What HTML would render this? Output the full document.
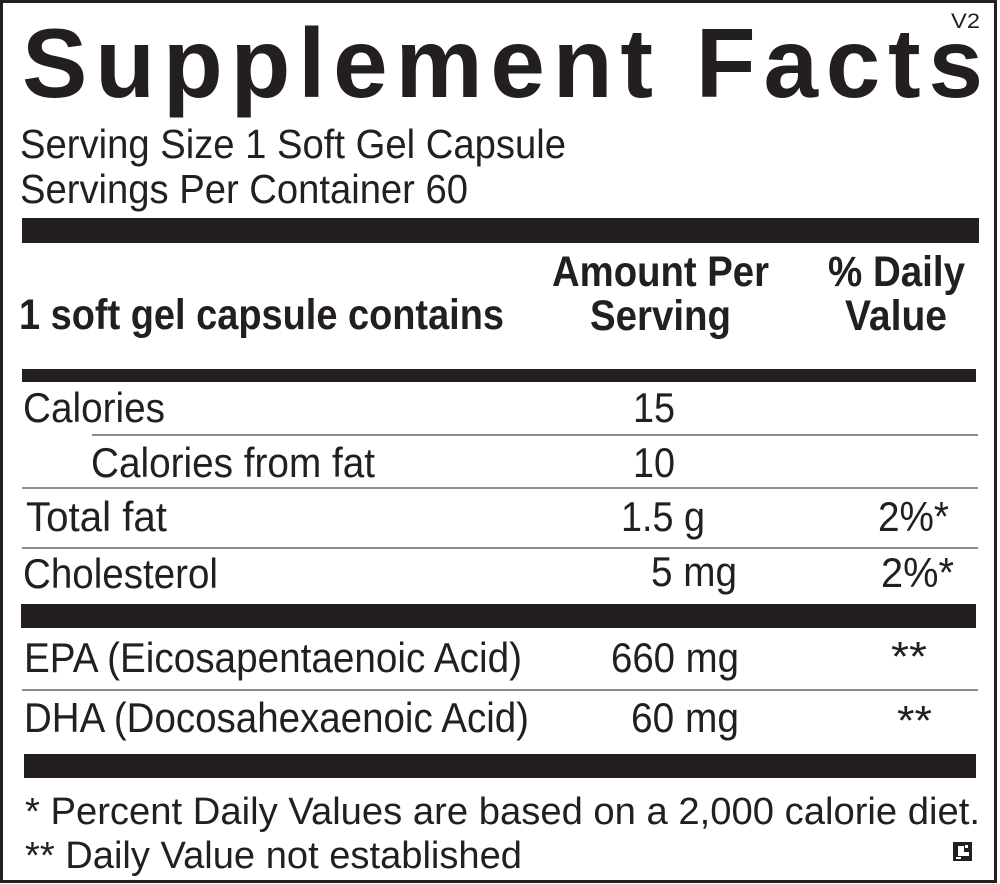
<!DOCTYPE html>
<html>
<head>
<meta charset="utf-8">
<style>
html,body{margin:0;padding:0;background:#fff;}
svg{display:block;}
text{font-family:"Liberation Sans",Arial,sans-serif;fill:#231f20;}
.b{font-weight:bold;}
</style>
</head>
<body>
<svg width="1000" height="884" viewBox="0 0 1000 884" xmlns="http://www.w3.org/2000/svg">
<rect x="0" y="0" width="1000" height="884" fill="#fff"/>
<!-- outer border -->
<rect x="1.5" y="1.5" width="994" height="880" fill="none" stroke="#231f20" stroke-width="3"/>

<!-- title -->
<text class="b" x="22" y="97" font-size="98" textLength="961" lengthAdjust="spacing">Supplement Facts</text>
<text x="951" y="28" font-size="21" textLength="29" lengthAdjust="spacingAndGlyphs">V2</text>

<text x="20" y="158" font-size="41" textLength="546" lengthAdjust="spacingAndGlyphs">Serving Size 1 Soft Gel Capsule</text>
<text x="20" y="203" font-size="41" textLength="448" lengthAdjust="spacingAndGlyphs">Servings Per Container 60</text>

<!-- bar 1 -->
<rect x="22" y="218" width="957" height="25" fill="#231f20"/>

<!-- header -->
<text class="b" x="19" y="329" font-size="43" textLength="485" lengthAdjust="spacingAndGlyphs">1 soft gel capsule contains</text>
<text class="b" x="552" y="286" font-size="43" textLength="217" lengthAdjust="spacingAndGlyphs">Amount Per</text>
<text class="b" x="590" y="330" font-size="43" textLength="141" lengthAdjust="spacingAndGlyphs">Serving</text>
<text class="b" x="828" y="286" font-size="43" textLength="137" lengthAdjust="spacingAndGlyphs">% Daily</text>
<text class="b" x="845" y="330" font-size="43" textLength="102" lengthAdjust="spacingAndGlyphs">Value</text>

<!-- bar 2 -->
<rect x="22" y="369" width="954" height="13" fill="#231f20"/>

<!-- rows -->
<text x="23" y="422" font-size="42" textLength="142" lengthAdjust="spacingAndGlyphs">Calories</text>
<text x="633" y="422" font-size="42" textLength="42" lengthAdjust="spacingAndGlyphs">15</text>
<rect x="92" y="434" width="886" height="2" fill="#8c8c8c"/>

<text x="91" y="477" font-size="42" textLength="284" lengthAdjust="spacingAndGlyphs">Calories from fat</text>
<text x="633" y="477" font-size="42" textLength="42" lengthAdjust="spacingAndGlyphs">10</text>
<rect x="22" y="487" width="956" height="2" fill="#8c8c8c"/>

<text x="26" y="531" font-size="42" textLength="141" lengthAdjust="spacingAndGlyphs">Total fat</text>
<text x="621" y="531" font-size="42" textLength="84" lengthAdjust="spacingAndGlyphs">1.5 g</text>
<text x="878" y="531" font-size="42" textLength="71" lengthAdjust="spacingAndGlyphs">2%*</text>
<rect x="22" y="547" width="956" height="2" fill="#8c8c8c"/>

<text x="23" y="588" font-size="42" textLength="195" lengthAdjust="spacingAndGlyphs">Cholesterol</text>
<text x="651" y="586" font-size="42" textLength="86" lengthAdjust="spacingAndGlyphs">5 mg</text>
<text x="881" y="587" font-size="42" textLength="73" lengthAdjust="spacingAndGlyphs">2%*</text>

<!-- bar 3 -->
<rect x="21" y="604" width="955" height="24" fill="#231f20"/>

<text x="24" y="672" font-size="42" textLength="498" lengthAdjust="spacingAndGlyphs">EPA (Eicosapentaenoic Acid)</text>
<text x="611" y="672" font-size="42" textLength="128" lengthAdjust="spacingAndGlyphs">660 mg</text>
<text x="891" y="671" font-size="42" textLength="36" lengthAdjust="spacingAndGlyphs">**</text>
<rect x="22" y="689" width="956" height="2" fill="#8c8c8c"/>

<text x="24" y="732" font-size="42" textLength="505" lengthAdjust="spacingAndGlyphs">DHA (Docosahexaenoic Acid)</text>
<text x="631" y="732" font-size="42" textLength="108" lengthAdjust="spacingAndGlyphs">60 mg</text>
<text x="897" y="735" font-size="42" textLength="35" lengthAdjust="spacingAndGlyphs">**</text>

<!-- bar 4 -->
<rect x="24" y="754" width="952" height="24" fill="#231f20"/>

<!-- footer -->
<text x="25" y="824" font-size="38" textLength="955" lengthAdjust="spacingAndGlyphs">* Percent Daily Values are based on a 2,000 calorie diet.</text>
<text x="25" y="868" font-size="38" textLength="497" lengthAdjust="spacingAndGlyphs">** Daily Value not established</text>

<!-- small icon -->
<rect x="953" y="842" width="19" height="19" fill="#231f20"/>
<path d="M958 846 L964 846 L964 852 L969 852 L969 856 L958 856 Z" fill="#fff"/>
<rect x="965" y="845" width="3" height="3" fill="#fff"/>
<rect x="956" y="857" width="5" height="2" fill="#fff"/>
</svg>
</body>
</html>
